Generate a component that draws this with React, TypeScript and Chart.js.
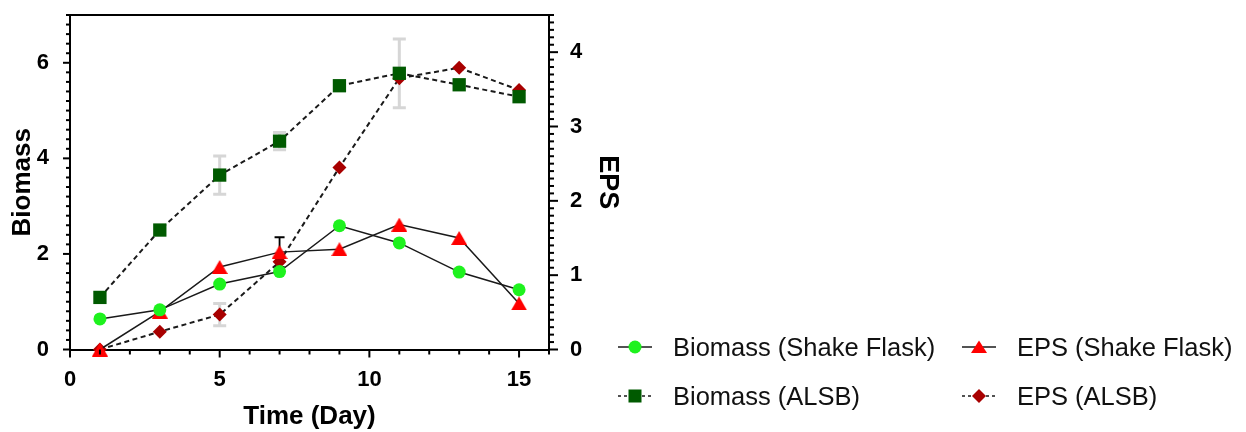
import React, { useEffect, useRef } from 'react';
import { Chart, registerables } from 'chart.js';

Chart.register(...registerables);

// ---------- data ----------
const days = [1, 3, 5, 7, 9, 11, 13, 15];
const biomassShakeFlask = [0.64, 0.83, 1.37, 1.63, 2.59, 2.23, 1.62, 1.25];
const biomassALSB = [1.09, 2.5, 3.65, 4.36, 5.52, 5.78, 5.54, 5.29];
const epsShakeFlask = [0, 0.51, 1.11, 1.31, 1.35, 1.68, 1.5, 0.62];
const epsALSB = [0, 0.24, 0.47, 1.18, 2.45, 3.65, 3.79, 3.49];

const biomassShakeFlaskErr = [0, 0, 0, 0, 0, 0, 0, 0];
const biomassALSBErr = [0, 0, 0.4, 0.18, 0, 0.72, 0, 0];
const epsShakeFlaskErr = [0, 0, 0, 0.2, 0, 0, 0, 0];
const epsALSBErr = [0, 0, 0.15, 0, 0, 0, 0, 0];

const seriesLabels = [
  'Biomass (Shake Flask)',
  'Biomass (ALSB)',
  'EPS (Shake Flask)',
  'EPS (ALSB)',
];
const xAxisTitle = 'Time (Day)';
const leftAxisTitle = 'Biomass';
const rightAxisTitle = 'EPS';

const xRange = [0, 16];
const biomassRange = [0, 7];
const epsRange = [0, 4.5];
const xTickStep = 5;
const biomassTickStep = 2;
const epsTickStep = 1;

// ---------- style ----------
const FONT = "'Liberation Sans', Arial, Helvetica, sans-serif";
const GREEN = '#1ef21e';
const DARK_GREEN = '#005a00';
const RED = '#ff0000';
const DARK_RED = '#a80000';
const LINE = '#1a1a1a';

function makeTriangle(color: string, w: number, h: number) {
  const c = document.createElement('canvas');
  c.width = w;
  c.height = h;
  const g = c.getContext('2d')!;
  g.fillStyle = color;
  g.beginPath();
  g.moveTo(w / 2, 0);
  g.lineTo(w, h);
  g.lineTo(0, h);
  g.closePath();
  g.fill();
  return c;
}

const minorTicksPlugin = {
  id: 'minorTicks',
  afterDraw(chart: any) {
    const ctx = chart.ctx;
    const specs = [
      { id: 'x', step: 1, major: 5, minorLen: 5, majorLen: 8, side: 'bottom' },
      { id: 'y', step: 0.2, major: 2, minorLen: 4, majorLen: 7, side: 'left' },
      { id: 'y1', step: 0.1, major: 1, minorLen: 5, majorLen: 9, side: 'right' },
    ];
    ctx.save();
    ctx.strokeStyle = '#000';
    ctx.lineWidth = 2;
    ctx.lineCap = 'butt';
    for (const s of specs) {
      const scale = chart.scales[s.id];
      if (!scale) continue;
      const n = Math.round((scale.max - scale.min) / s.step);
      for (let i = 0; i <= n; i++) {
        const v = scale.min + i * s.step;
        const r = v / s.major;
        const isMajor = Math.abs(r - Math.round(r)) < 1e-6;
        const len = isMajor ? s.majorLen : s.minorLen;
        const p = scale.getPixelForValue(v);
        ctx.beginPath();
        if (s.side === 'bottom') {
          const y0 = scale.top;
          ctx.moveTo(p, y0);
          ctx.lineTo(p, y0 + len);
        } else if (s.side === 'left') {
          const x0 = scale.right;
          ctx.moveTo(x0, p);
          ctx.lineTo(x0 - len, p);
        } else {
          const x0 = scale.left;
          ctx.moveTo(x0, p);
          ctx.lineTo(x0 + len, p);
        }
        ctx.stroke();
      }
    }
    ctx.restore();
  },
};

const errorBarsPlugin = {
  id: 'errorBars',
  beforeDatasetsDraw(chart: any) {
    const ctx = chart.ctx;
    ctx.save();
    chart.data.datasets.forEach((ds: any) => {
      const errs: number[] = ds.errors || [];
      const xs = chart.scales[ds.xAxisID || 'x'];
      const ys = chart.scales[ds.yAxisID];
      ctx.strokeStyle = ds.errorColor;
      ctx.lineWidth = ds.errorWidth;
      ds.data.forEach((pt: any, i: number) => {
        const e = errs[i];
        if (!e) return;
        const px = xs.getPixelForValue(pt.x);
        const top = ys.getPixelForValue(pt.y + e);
        const bot = ys.getPixelForValue(pt.y - e);
        const cw = ds.errorCap;
        ctx.beginPath();
        ctx.moveTo(px, top);
        ctx.lineTo(px, bot);
        ctx.moveTo(px - cw, top);
        ctx.lineTo(px + cw, top);
        ctx.moveTo(px - cw, bot);
        ctx.lineTo(px + cw, bot);
        ctx.stroke();
      });
    });
    ctx.restore();
  },
};

function pts(vals: number[]) {
  return days.map((d, i) => ({ x: d, y: vals[i] }));
}

function LegendMarker({ kind, color, dashed }: { kind: string; color: string; dashed: boolean }) {
  let shape: React.ReactNode = null;
  if (kind === 'circle') shape = <circle cx={17} cy={10} r={6.5} fill={color} />;
  if (kind === 'rect') shape = <rect x={10.5} y={3.5} width={13} height={13} fill={color} />;
  if (kind === 'triangle') shape = <polygon points="17,3.5 25,16 9,16" fill={color} />;
  if (kind === 'diamond') shape = <polygon points="17,3 24,10 17,17 10,10" fill={color} />;
  return (
    <svg width={34} height={20} style={{ display: 'block' }}>
      <line
        x1={0}
        y1={10}
        x2={34}
        y2={10}
        stroke={LINE}
        strokeWidth={1.5}
        strokeDasharray={dashed ? '3 3' : undefined}
      />
      {shape}
    </svg>
  );
}

const legendItems = [
  { label: seriesLabels[0], kind: 'circle', color: GREEN, dashed: false, mx: 618, tx: 673, row: 0 },
  { label: seriesLabels[1], kind: 'rect', color: DARK_GREEN, dashed: true, mx: 618, tx: 673, row: 1 },
  { label: seriesLabels[2], kind: 'triangle', color: RED, dashed: false, mx: 962, tx: 1017, row: 0 },
  { label: seriesLabels[3], kind: 'diamond', color: DARK_RED, dashed: true, mx: 962, tx: 1017, row: 1 },
];
const legendRowCenters = [347, 396];

const noPad = (s: any) => {
  s.paddingTop = 0;
  s.paddingBottom = 0;
  s.paddingLeft = 0;
  s.paddingRight = 0;
};

export default function App() {
  const ref = useRef<HTMLCanvasElement | null>(null);

  useEffect(() => {
    if (!ref.current) return;
    const tri = makeTriangle(RED, 16, 14);
    const tickFont = { family: FONT, size: 22, weight: 'bold' as const };
    const titleFont = { family: FONT, size: 26, weight: 'bold' as const, lineHeight: 1 };
    const border = { display: true, color: '#000', width: 2 };

    const chart = new Chart(ref.current, {
      type: 'line',
      data: {
        datasets: [
          {
            label: seriesLabels[0],
            data: pts(biomassShakeFlask),
            yAxisID: 'y',
            borderColor: LINE,
            borderWidth: 1.5,
            pointStyle: 'circle',
            pointRadius: 6.5,
            pointBackgroundColor: GREEN,
            pointBorderColor: GREEN,
            pointBorderWidth: 0,
            clip: false,
            errors: biomassShakeFlaskErr,
            errorColor: '#000',
            errorWidth: 1.8,
            errorCap: 5,
          } as any,
          {
            label: seriesLabels[1],
            data: pts(biomassALSB),
            yAxisID: 'y',
            borderColor: LINE,
            borderWidth: 2,
            borderDash: [5, 3.5],
            pointStyle: 'rect',
            pointRadius: 9.4,
            pointBackgroundColor: DARK_GREEN,
            pointBorderColor: DARK_GREEN,
            pointBorderWidth: 0,
            clip: false,
            errors: biomassALSBErr,
            errorColor: '#d6d6d6',
            errorWidth: 3,
            errorCap: 6.5,
          } as any,
          {
            label: seriesLabels[2],
            data: pts(epsShakeFlask),
            yAxisID: 'y1',
            borderColor: LINE,
            borderWidth: 1.5,
            pointStyle: tri,
            pointRadius: 8,
            pointBackgroundColor: RED,
            pointBorderColor: RED,
            pointBorderWidth: 0,
            clip: false,
            errors: epsShakeFlaskErr,
            errorColor: '#000',
            errorWidth: 1.8,
            errorCap: 5,
          } as any,
          {
            label: seriesLabels[3],
            data: pts(epsALSB),
            yAxisID: 'y1',
            borderColor: LINE,
            borderWidth: 2,
            borderDash: [5, 3.5],
            pointStyle: 'rectRot',
            pointRadius: 7,
            pointBackgroundColor: DARK_RED,
            pointBorderColor: DARK_RED,
            pointBorderWidth: 0,
            clip: false,
            errors: epsALSBErr,
            errorColor: '#d6d6d6',
            errorWidth: 3,
            errorCap: 6.5,
          } as any,
        ],
      },
      options: {
        animation: false,
        responsive: false,
        maintainAspectRatio: false,
        layout: { padding: { top: 15, left: 0, right: 0, bottom: 0 } },
        plugins: { legend: { display: false }, tooltip: { enabled: false } },
        scales: {
          x: {
            type: 'linear',
            position: 'bottom',
            min: xRange[0],
            max: xRange[1],
            grid: { display: false },
            border,
            ticks: {
              stepSize: xTickStep,
              includeBounds: false,
              autoSkip: false,
              maxRotation: 0,
              padding: 9,
              color: '#000',
              font: tickFont,
            },
            title: {
              display: true,
              text: xAxisTitle,
              color: '#000',
              font: titleFont,
              padding: { top: 0, bottom: 2 },
            },
            afterFit: (s: any) => {
              s.height = 82.5;
              noPad(s);
            },
          },
          xTop: {
            type: 'linear',
            position: 'top',
            min: xRange[0],
            max: xRange[1],
            grid: { display: false },
            border,
            ticks: { display: false },
            afterFit: (s: any) => {
              s.height = 0;
              noPad(s);
            },
          },
          y: {
            type: 'linear',
            position: 'left',
            min: biomassRange[0],
            max: biomassRange[1],
            grid: { display: false },
            border,
            ticks: {
              stepSize: biomassTickStep,
              includeBounds: false,
              autoSkip: false,
              padding: 13,
              color: '#000',
              font: tickFont,
            },
            title: {
              display: true,
              text: leftAxisTitle,
              color: '#000',
              font: titleFont,
              padding: { top: 9.5, bottom: 0 },
            },
            afterFit: (s: any) => {
              s.width = 70;
              noPad(s);
            },
          },
          y1: {
            type: 'linear',
            position: 'right',
            min: epsRange[0],
            max: epsRange[1],
            grid: { display: false },
            border,
            ticks: {
              stepSize: epsTickStep,
              includeBounds: false,
              autoSkip: false,
              padding: 13,
              color: '#000',
              font: tickFont,
            },
            title: {
              display: true,
              text: rightAxisTitle,
              color: '#000',
              font: { ...titleFont, size: 27 },
              padding: { top: 19, bottom: 0 },
            },
            afterFit: (s: any) => {
              s.width = 91;
              noPad(s);
            },
          },
        },
      } as any,
      plugins: [errorBarsPlugin, minorTicksPlugin],
    });
    return () => chart.destroy();
  }, []);

  return (
    <div style={{ position: 'absolute', left: 0, top: 0, width: 1246, height: 432, overflow: 'hidden', background: '#fff' }}>
      <canvas ref={ref} width={640} height={432} style={{ position: 'absolute', left: 0, top: 0, display: 'block' }} />
      {legendItems.map((it) => {
        const cy = legendRowCenters[it.row];
        return (
          <React.Fragment key={it.label}>
            <div style={{ position: 'absolute', left: it.mx, top: cy - 10 }}>
              <LegendMarker kind={it.kind} color={it.color} dashed={it.dashed} />
            </div>
            <div
              style={{
                position: 'absolute',
                left: it.tx,
                top: cy - 15,
                fontFamily: FONT,
                fontSize: 25.5,
                lineHeight: '30px',
                color: '#111',
                whiteSpace: 'nowrap',
              }}
            >
              {it.label}
            </div>
          </React.Fragment>
        );
      })}
    </div>
  );
}
